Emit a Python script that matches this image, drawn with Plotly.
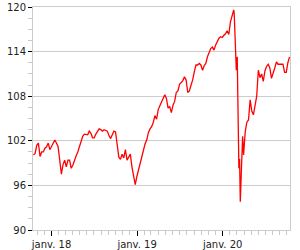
import pandas as pd
import plotly.graph_objects as go

# Weekly values (Mondays) from 2017-10-16 to 2020-02-17
weekly_start = "2017-10-16"
weekly_values = [
    100.1, 100.3, 101.4, 101.7, 99.9, 100.5, 100.5, 101.0, 101.2, 101.7,
    100.8, 101.2, 101.7, 102.1, 101.7, 101.2, 99.4, 97.5, 98.8, 99.4,
    98.5, 99.4, 99.4, 98.3, 98.7, 99.5, 100.0, 100.5, 101.3, 102.0,
    102.6, 102.9, 102.8, 102.8, 103.3, 103.0, 102.4, 102.4, 102.9, 103.2,
    103.6, 103.5, 103.3, 103.5, 103.4, 103.3, 102.7, 102.3, 102.8, 103.3,
    103.2, 101.6, 99.8, 99.5, 100.2, 99.7, 100.8, 99.4, 99.9, 100.2,
    98.5, 97.5, 96.1, 97.2, 98.1, 99.0, 99.9, 100.7, 101.6, 102.1,
    103.1, 103.6, 103.9, 104.5, 105.4, 104.9, 106.2, 106.7, 107.2, 107.8,
    108.2, 107.7, 106.4, 106.6, 105.8, 106.8, 107.3, 108.5, 108.7, 109.6,
    109.8, 110.1, 110.6, 110.2, 108.5, 108.7, 109.5, 110.2, 111.3, 112.2,
    112.2, 112.4, 112.2, 111.5, 112.1, 112.4, 113.3, 113.9, 114.4, 114.6,
    114.2, 114.9, 115.4, 115.8, 116.0, 115.9, 116.2, 116.4, 116.8, 116.3,
    118.0, 118.9, 119.6,
]

# Detailed points during the crash
crash_dates = ["2020-02-19", "2020-02-25", "2020-02-28", "2020-03-03", "2020-03-06",
               "2020-03-10", "2020-03-13", "2020-03-16", "2020-03-19", "2020-03-23",
               "2020-03-26", "2020-03-30"]
crash_values = [119.2, 113.5, 111.5, 113.3, 105.9, 98.3, 99.6, 93.8, 96.5, 100.5,
                102.6, 100.1]

# Weekly values from 2020-04-06
late_start = "2020-04-06"
late_values = [
    103.2, 104.5, 104.8, 107.5, 106.0, 105.5, 106.6, 108.0, 111.5, 110.5,
    111.0, 110.0, 111.4, 112.0, 112.3, 111.8, 110.4, 111.0, 111.8, 112.6,
    112.3, 112.3, 112.3, 112.3, 111.2, 111.2, 112.5, 113.3,
]

tick_dates = ["2018-01-01", "2019-01-01", "2020-01-01"]
tick_labels = ["janv. 18", "janv. 19", "janv. 20"]
y_ticks = [90, 96, 102, 108, 114, 120]

dates = (list(pd.date_range(weekly_start, periods=len(weekly_values), freq="7D"))
         + list(pd.to_datetime(crash_dates))
         + list(pd.date_range(late_start, periods=len(late_values), freq="7D")))
values = weekly_values + crash_values + late_values

fig = go.Figure(go.Scatter(x=dates, y=values, mode="lines",
                           line=dict(color="#ff0000", width=1.3),
                           hoverinfo="skip"))

font = dict(family="DejaVu Sans", size=10, color="#222222")
fig.update_layout(
    width=300, height=250,
    margin=dict(l=33, r=10, t=7, b=20),
    paper_bgcolor="white", plot_bgcolor="white",
    showlegend=False,
    font=font,
)
fig.update_xaxes(
    range=["2017-10-14", "2020-10-14"],
    automargin=False,
    tickvals=tick_dates, ticktext=tick_labels,
    ticks="outside", ticklen=5, tickcolor="#000000", tickwidth=1,
    showgrid=False, zeroline=False,
    showline=True, linecolor="#cccccc", linewidth=1, mirror=True,
    tickfont=font,
    minor=dict(dtick="M1", tick0="2018-01-01", ticks="outside", ticklen=4,
               tickcolor="#c8c8c8", showgrid=False),
)
fig.update_yaxes(
    range=[90, 120],
    automargin=False,
    tickvals=y_ticks,
    ticks="outside", ticklen=4, tickcolor="#000000", tickwidth=1,
    showgrid=True, gridcolor="#cccccc", gridwidth=1, zeroline=False,
    showline=True, linecolor="#cccccc", linewidth=1, mirror=True,
    tickfont=font,
    minor=dict(dtick=1.5, tick0=90, ticks="outside", ticklen=4,
               tickcolor="#c8c8c8", showgrid=False),
)

fig.write_html("out.html")
